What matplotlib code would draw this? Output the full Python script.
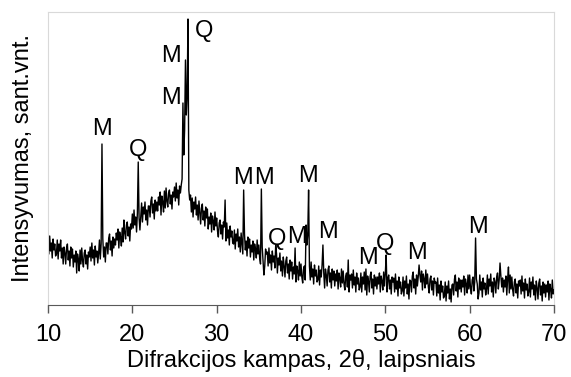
import numpy as np
import matplotlib
matplotlib.use("Agg")
import matplotlib.pyplot as plt

plt.rcParams["font.family"] = ["Liberation Sans", "DejaVu Sans"]

# difrakcijos kampas 10..70 laipsniu, zingsnis 0.1
two_theta = np.arange(0, 601) * 0.1 + 10.0

# intensyvumas (santykiniai vnt.), viena eilute = 1 laipsnis
intensity = [
    65, 51, 69, 54, 62, 47, 66, 55, 61, 49,       # 10
    51, 65, 46, 61, 54, 65, 47, 57, 41, 58,       # 11
    52, 41, 57, 61, 45, 54, 39, 58, 47, 56,       # 12
    38, 50, 43, 54, 32, 51, 46, 34, 55, 41,       # 13
    57, 44, 38, 52, 55, 41, 50, 36, 53, 48,       # 14
    58, 44, 62, 47, 55, 40, 59, 48, 54, 42,       # 15
    51, 65, 46, 61, 161, 66, 48, 58, 43, 62,      # 16
    62, 51, 67, 71, 55, 64, 49, 68, 57, 66,       # 17
    60, 72, 65, 76, 57, 73, 68, 59, 77, 63,       # 18
    85, 72, 66, 80, 83, 69, 78, 64, 81, 76,       # 19
    91, 77, 95, 80, 88, 73, 92, 143, 87, 75,      # 20
    88, 102, 83, 98, 91, 103, 85, 95, 80, 99,     # 21
    99, 88, 104, 108, 92, 101, 86, 105, 94, 103,  # 22
    94, 108, 100, 113, 90, 109, 103, 93, 114, 97,  # 23
    117, 104, 98, 112, 115, 101, 110, 96, 113, 108,  # 24
    118, 104, 122, 107, 115, 100, 119, 112, 120, 126,  # 25
    202, 150, 175, 245, 190, 210, 286, 115, 105, 110,  # 26
    93, 107, 88, 103, 96, 108, 90, 100, 85, 104,  # 27
    92, 81, 97, 101, 85, 94, 79, 98, 87, 96,      # 28
    76, 88, 81, 92, 73, 89, 84, 75, 93, 79,       # 29
    87, 74, 68, 82, 85, 71, 80, 66, 83, 78,       # 30
    105, 64, 82, 67, 75, 60, 79, 68, 74, 62,      # 31
    61, 75, 56, 71, 64, 76, 58, 68, 53, 72,       # 32
    62, 51, 115, 71, 55, 64, 49, 68, 57, 66,      # 33
    48, 60, 53, 64, 45, 61, 56, 47, 65, 51,       # 34
    60, 47, 41, 116, 58, 44, 30, 39, 56, 51,      # 35
    53, 39, 57, 42, 50, 35, 54, 43, 49, 37,       # 36
    60, 51, 32, 47, 40, 52, 34, 44, 29, 48,       # 37
    39, 28, 44, 48, 32, 41, 26, 45, 34, 43,       # 38
    26, 38, 31, 57, 23, 39, 34, 25, 43, 29,       # 39
    41, 28, 22, 36, 39, 25, 80, 60, 70, 115,      # 40
    39, 25, 43, 28, 36, 21, 40, 29, 35, 23,       # 41
    25, 39, 20, 35, 28, 40, 60, 32, 17, 36,       # 42
    30, 19, 35, 39, 23, 32, 17, 36, 25, 34,       # 43
    19, 31, 24, 35, 16, 32, 27, 18, 36, 22,       # 44
    34, 21, 15, 29, 32, 18, 45, 13, 30, 25,       # 45
    31, 17, 35, 20, 28, 13, 32, 21, 27, 15,       # 46
    18, 32, 13, 28, 21, 33, 15, 36, 10, 29,       # 47
    24, 13, 29, 33, 17, 26, 11, 30, 19, 28,       # 48
    16, 28, 21, 32, 13, 29, 24, 15, 33, 19,       # 49
    32, 50, 13, 27, 30, 16, 25, 11, 28, 23,       # 50
    27, 13, 31, 16, 24, 9, 28, 17, 23, 11,        # 51
    14, 28, 9, 24, 17, 29, 11, 21, 6, 25,         # 52
    24, 13, 29, 33, 17, 26, 11, 30, 19, 28,       # 53
    40, 30, 23, 34, 15, 31, 26, 17, 35, 21,       # 54
    31, 18, 12, 26, 29, 15, 24, 10, 27, 22,       # 55
    23, 9, 27, 12, 20, 5, 24, 13, 19, 7,          # 56
    9, 23, 4, 19, 12, 24, 6, 16, 3, 20,           # 57
    21, 10, 26, 30, 14, 23, 8, 27, 16, 25,        # 58
    13, 25, 18, 29, 10, 26, 21, 12, 30, 16,       # 59
    30, 17, 11, 25, 28, 14, 23, 67, 26, 21,       # 60
    6, 12, 30, 15, 23, 8, 27, 16, 22, 10,         # 61
    16, 30, 11, 26, 19, 31, 13, 23, 8, 27,        # 62
    23, 12, 28, 32, 16, 25, 42, 29, 18, 27,       # 63
    13, 25, 18, 29, 10, 26, 38, 12, 30, 16,       # 64
    28, 15, 9, 23, 26, 12, 21, 7, 24, 19,         # 65
    25, 11, 29, 14, 22, 7, 26, 15, 21, 9,         # 66
    13, 27, 8, 23, 16, 28, 10, 20, 5, 24,         # 67
    17, 6, 22, 26, 10, 19, 4, 23, 12, 21,         # 68
    8, 20, 13, 24, 5, 21, 16, 7, 25, 11,          # 69
    15,                                           # 70
]

# fazes zymes: M ir Q
peak_labels = ["M", "Q", "M", "M", "Q", "M", "M", "Q", "M", "M",
               "M", "M", "Q", "M", "M"]
label_x = [16.35, 20.67, 24.6, 24.6, 28.5, 33.12, 35.67, 37.16, 39.53, 40.83,
           43.2, 47.95, 49.96, 53.76, 60.99]
label_y = [176, 155, 249, 207, 274, 127, 127, 66, 68, 129,
           73, 47, 61, 52, 78]

fig = plt.figure(figsize=(5.71, 3.77), dpi=100)
ax = fig.add_axes([48 / 571, 1 - 305 / 377, (554 - 48) / 571, (305 - 12) / 377])

ax.plot(two_theta, intensity, color="black", linewidth=1.0)

for lab, lx, ly in zip(peak_labels, label_x, label_y):
    ax.text(lx, ly, lab, fontsize=17, ha="center", va="center")

ax.set_xlim(10, 70)
ax.set_ylim(0, 293)
ax.set_xticks(range(10, 71, 10))
ax.set_yticks([])
ax.tick_params(axis="x", labelsize=17, length=6, width=1, color="#595959", pad=8)

for side in ["left", "top", "right"]:
    ax.spines[side].set_color("#d9d9d9")
ax.spines["bottom"].set_color("#595959")

ax.set_xlabel("Difrakcijos kampas, 2θ, laipsniais", fontsize=17, labelpad=2)
ax.set_ylabel("Intensyvumas, sant.vnt.", fontsize=17, labelpad=10)

fig.savefig("out.png", dpi=100)
